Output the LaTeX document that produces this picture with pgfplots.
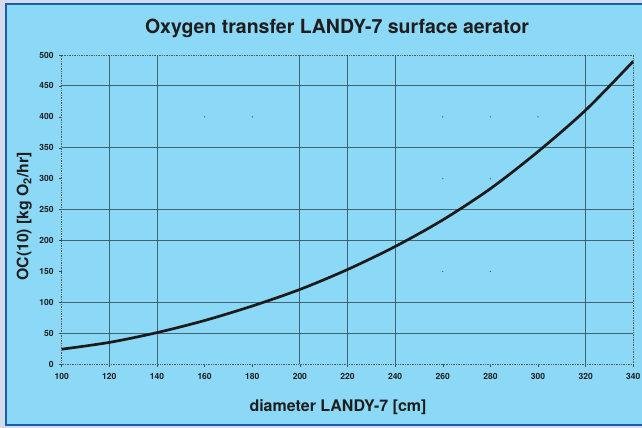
\documentclass[border=0pt]{standalone}
\usepackage{fontspec}
\setmainfont{TeX Gyre Heros}
\usepackage{pgfplots}
\pgfplotsset{compat=1.18}
\definecolor{panel}{HTML}{8BD8F7}
\definecolor{outerc}{HTML}{D5DAEC}
\definecolor{framec}{HTML}{1660A8}
\definecolor{gridc}{HTML}{34505E}
\definecolor{curvec}{HTML}{1E1A1A}
\definecolor{textc}{HTML}{1E1E1E}

\begin{document}
\begin{tikzpicture}[x=1pt,y=1pt]
\path[use as bounding box] (0,0) rectangle (642,428);
\fill[outerc] (0,0) rectangle (642,428);
\fill[panel] (5,2) rectangle (642,425);
\draw[framec, line width=1.8pt] (642,424) -- (6,424) -- (6,3) -- (642,3);
\begin{axis}[
  at={(61.7pt,63.7pt)}, anchor=south west,
  scale only axis, width=571.6pt, height=309.3pt,
  xmin=100, xmax=340, ymin=0, ymax=500,
  xtick={100,120,...,340}, ytick={0,50,...,500},
  xtick pos=bottom, ytick pos=left,
  tick align=outside, major tick length=2.5pt,
  tick style={gridc, line width=0.5pt},
  axis line style={gray!70!black, densely dotted, line width=0.7pt},
  extra x ticks={120,140,200,220,240,320},
  extra x tick labels={},
  extra x tick style={grid=major, major tick length=0pt},
  extra y ticks={50,100,200,250,350,450},
  extra y tick labels={},
  extra y tick style={grid=major, major tick length=0pt},
  major grid style={gridc, line width=0.9pt, opacity=0.85},
  /pgf/number format/assume math mode=true,
  tick label style={font=\fontsize{8.5}{9}\selectfont\bfseries, text=textc},
  xticklabel style={yshift=-3pt},
  yticklabel style={xshift=-2pt},
  title={Oxygen transfer LANDY-7 surface aerator},
  title style={at={(axis description cs:0.4817,1.0508)}, anchor=base,
    font=\fontsize{19.5}{22}\selectfont\bfseries, text=textc},
  xlabel={diameter LANDY-7 [cm]},
  xlabel style={at={(axis description cs:0.4834,-0.1532)}, anchor=base,
    font=\fontsize{16}{18}\selectfont\bfseries, text=textc},
  ylabel={OC(10) [kg O\textsubscript{2}/hr]},
  ylabel style={at={(axis description cs:-0.0584,0.478)}, anchor=base, rotate=0,
    font=\fontsize{15.8}{18}\selectfont\bfseries, text=textc},
]
\addplot[only marks, mark=*, mark size=0.45pt, gridc, opacity=0.7] coordinates {
(160,400)(180,400)(260,400)(280,400)(300,400)(260,300)(280,300)(260,150)(280,150)};
\addplot[curvec, line width=2.7pt, smooth] coordinates {
(100,24.4)(120,35.4)(140,51.2)(160,70.8)(180,94.2)(200,121)(220,153.2)
(240,190.4)(260,233.4)(280,283.9)(300,343.9)(320,410.9)(340,489.9)};
\end{axis}
\end{tikzpicture}
\end{document}
